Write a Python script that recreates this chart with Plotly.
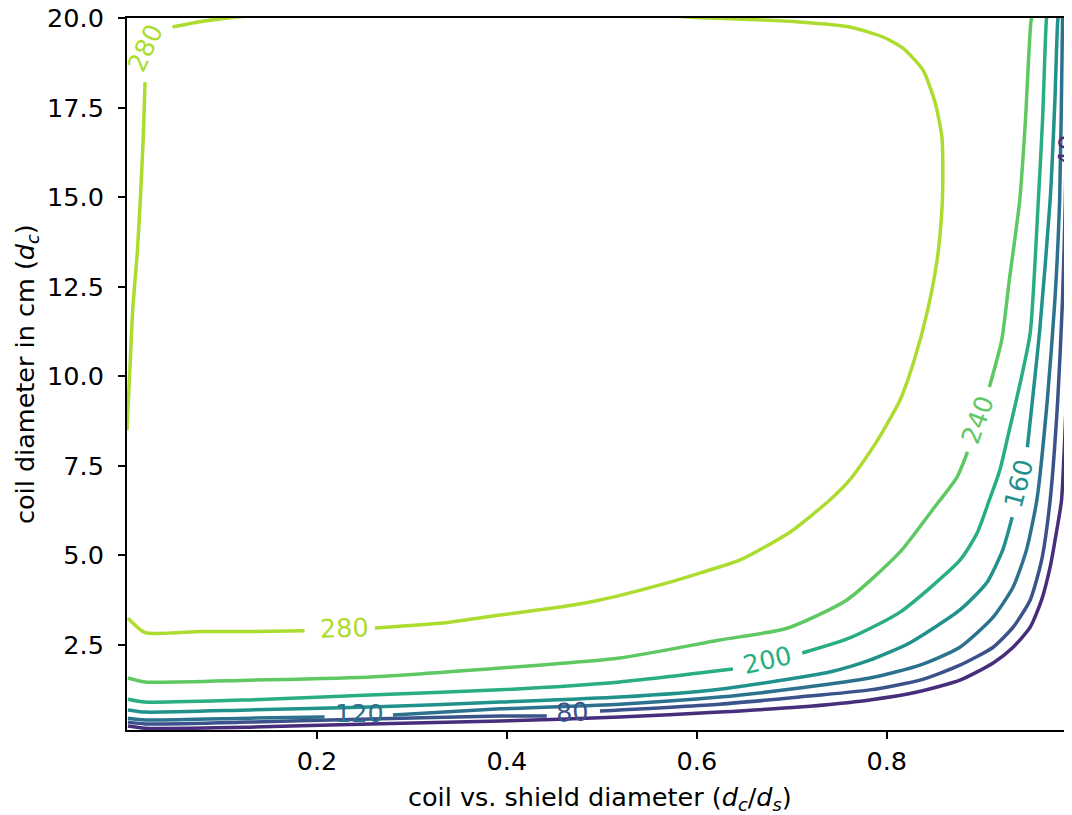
import plotly.graph_objects as go

# Contour levels and the viridis colours matplotlib gave them (norm 0..320)
levels = [40, 80, 120, 160, 200, 240, 280]
level_colors = ["#472d7b", "#3b528b", "#2c728e", "#21918c", "#28ae80", "#5ec962", "#addc30"]

# Contour paths (x = dc/ds, y = dc in cm); None = gap where a label sits
x_280a = [0.001, 0.019, 0.077, 0.129, 0.187, None, 0.261, 0.340, 0.393, 0.456, 0.498, 0.568, 0.603, 0.645,
          0.698, 0.740, 0.761, 0.787, 0.814, 0.829, 0.843, 0.853, 0.858, 0.859, 0.858, 0.851, 0.838, 0.817,
          0.796, 0.761, 0.708, 0.656, 0.603, 0.550]
y_280a = [3.25, 2.85, 2.88, 2.88, 2.90, None, 2.98, 3.14, 3.34, 3.56, 3.76, 4.23, 4.51, 4.87,
          5.65, 6.55, 7.11, 8.08, 9.34, 10.46, 11.85, 13.25, 14.64, 15.56, 16.68, 17.63, 18.55, 19.16,
          19.47, 19.75, 19.89, 19.96, 20.01, 20.10]
x_280b = [0.000, 0.003, 0.006, 0.011, 0.014, 0.017, 0.019, None, 0.048, 0.075, 0.108, 0.140]
y_280b = [8.50, 10.17, 11.85, 13.52, 14.92, 16.59, 18.21, None, 19.75, 19.89, 20.01, 20.08]

x_240 = [0.001, 0.019, 0.129, 0.256, 0.393, 0.519, 0.624, 0.695, 0.758, 0.814, 0.848, 0.874, 0.885, None,
         0.908, 0.921, 0.929, 0.940, 0.946, 0.952, 0.954]
y_240 = [1.58, 1.47, 1.52, 1.61, 1.86, 2.14, 2.64, 2.97, 3.76, 5.10, 6.27, 7.19, 7.89, None,
         9.70, 11.01, 12.69, 14.92, 17.15, 19.94, 20.10]

x_200 = [0.001, 0.019, 0.129, 0.256, 0.393, 0.519, 0.638, None, 0.711, 0.761, 0.814, 0.877, 0.895, 0.908,
         0.919, 0.929, 0.940, 0.951, 0.959, 0.964, 0.968, 0.969]
y_200 = [0.99, 0.91, 0.97, 1.11, 1.25, 1.47, 1.83, None, 2.28, 2.70, 3.42, 4.87, 5.62, 6.55,
         7.38, 8.50, 9.76, 11.21, 14.64, 17.15, 19.94, 20.10]

x_160 = [0.001, 0.019, 0.129, 0.256, 0.393, 0.519, 0.624, 0.740, 0.782, 0.824, 0.877, 0.905, 0.922, 0.932,
         None, 0.948, 0.961, 0.972, 0.977, 0.980, 0.981]
y_160 = [0.69, 0.63, 0.69, 0.77, 0.91, 1.05, 1.27, 1.75, 2.08, 2.56, 3.48, 4.23, 5.15, 6.07,
         None, 8.02, 11.29, 14.92, 17.71, 19.94, 20.10]

x_120 = [0.001, 0.019, 0.129, 0.208, None, 0.280, 0.393, 0.519, 0.624, 0.708, 0.782, 0.835, 0.877, 0.912,
         0.933, 0.947, 0.958, 0.969, 0.977, 0.982, 0.985, 0.985]
y_120 = [0.46, 0.41, 0.46, 0.49, None, 0.55, 0.72, 0.85, 1.05, 1.30, 1.58, 1.94, 2.44, 3.28,
         4.12, 5.15, 6.55, 9.34, 12.13, 14.92, 19.94, 20.10]

x_80 = [0.001, 0.019, 0.129, 0.256, 0.393, 0.442, None, 0.498, 0.624, 0.708, 0.782, 0.835, 0.877, 0.912,
        0.933, 0.951, 0.963, 0.972, 0.980, 0.985, 0.988, 0.991, 0.991]
y_80 = [0.35, 0.30, 0.35, 0.44, 0.52, 0.52, None, 0.66, 0.85, 1.05, 1.25, 1.52, 1.94, 2.44,
        3.00, 3.76, 4.87, 6.55, 9.34, 12.13, 14.92, 19.94, 20.10]

x_40 = [0.001, 0.019, 0.129, 0.256, 0.393, 0.519, 0.624, 0.708, 0.782, 0.832, 0.877, 0.912, 0.933, 0.951,
        0.963, 0.972, 0.979, 0.984, 0.989, 0.993, 0.994, 0.994, None, 0.994, 0.995]
y_40 = [0.24, 0.18, 0.21, 0.30, 0.38, 0.49, 0.63, 0.77, 0.97, 1.19, 1.52, 2.00, 2.44, 3.00,
        3.76, 4.68, 5.71, 6.55, 9.34, 12.13, 14.92, 15.84, None, 16.95, 19.94]

# Inline contour labels: text, placement (data units), rotation, level
label_text = ["280", "280", "240", "200", "160", "120", "80", "40"]
label_x = [0.229, 0.019, 0.896, 0.674, 0.939, 0.245, 0.469, 0.990]
label_y = [2.98, 19.16, 8.80, 2.08, 7.02, 0.60, 0.63, 16.30]
label_angle = [-2, -65, -70, -13, -75, 0, -3, -88]
label_level = [280, 280, 240, 200, 160, 120, 80, 40]

x_tick_vals = [0.2, 0.4, 0.6, 0.8]
y_tick_vals = [2.5, 5.0, 7.5, 10.0, 12.5, 15.0, 17.5, 20.0]

x_title = "coil vs. shield diameter (<i>d</i><sub><i>c</i></sub>/<i>d</i><sub><i>s</i></sub>)"
y_title = "coil diameter in cm (<i>d</i><sub><i>c</i></sub>)"

paths = {
    40: [(x_40, y_40)],
    80: [(x_80, y_80)],
    120: [(x_120, y_120)],
    160: [(x_160, y_160)],
    200: [(x_200, y_200)],
    240: [(x_240, y_240)],
    280: [(x_280a, y_280a), (x_280b, y_280b)],
}
color_of = dict(zip(levels, level_colors))

FONT = "DejaVu Sans"
FS = 25.5
fig = go.Figure()
for lev in levels:
    for xs, ys in paths[lev]:
        fig.add_trace(go.Scatter(
            x=xs, y=ys, mode="lines", connectgaps=False,
            line=dict(color=color_of[lev], width=3.5, shape="spline", smoothing=0.6),
            hoverinfo="skip", showlegend=False, cliponaxis=True,
        ))

for t, lx, ly, ang, lev in zip(label_text, label_x, label_y, label_angle, label_level):
    fig.add_annotation(
        x=lx, y=ly, xref="x", yref="y", text=t, showarrow=False, textangle=ang,
        font=dict(family=FONT, size=FS, color=color_of[lev]),
        xanchor="center", yanchor="middle",
    )

# axis titles
fig.add_annotation(x=0.5, y=0, xref="paper", yref="paper", text=x_title, showarrow=False,
                   xanchor="center", yanchor="top", yshift=-50,
                   font=dict(family=FONT, size=FS, color="black"))
fig.add_annotation(x=0, y=0.5, xref="paper", yref="paper", text=y_title, showarrow=False,
                   textangle=-90, xanchor="center", yanchor="middle", xshift=-101,
                   font=dict(family=FONT, size=FS, color="black"))

# the page body has an 8px margin: the figure starts at (8, 8)
fig.update_layout(
    width=1072, height=807,
    margin=dict(l=119, r=8, t=10, b=85, autoexpand=False),
    paper_bgcolor="white", plot_bgcolor="white",
    font=dict(family=FONT, size=FS, color="black"),
)
fig.update_xaxes(
    range=[0.0, 0.995], tickvals=x_tick_vals, ticktext=[f"{v:.1f}" for v in x_tick_vals],
    showgrid=False, zeroline=False, showline=True, linecolor="black", linewidth=2, mirror=True,
    ticks="outside", ticklen=7, tickwidth=2, tickcolor="black", automargin=False,
    ticklabeloverflow="allow",
    tickfont=dict(family=FONT, size=FS, color="black"),
)
fig.update_yaxes(
    range=[0.13, 20.0], tickvals=y_tick_vals, ticktext=[f"{v:.1f}" for v in y_tick_vals],
    showgrid=False, zeroline=False, showline=True, linecolor="black", linewidth=2, mirror=True,
    ticks="outside", ticklen=7, tickwidth=2, tickcolor="black", automargin=False,
    ticklabeloverflow="allow",
    tickfont=dict(family=FONT, size=FS, color="black"), ticklabelstandoff=9,
)

fig.write_html("out.html")
